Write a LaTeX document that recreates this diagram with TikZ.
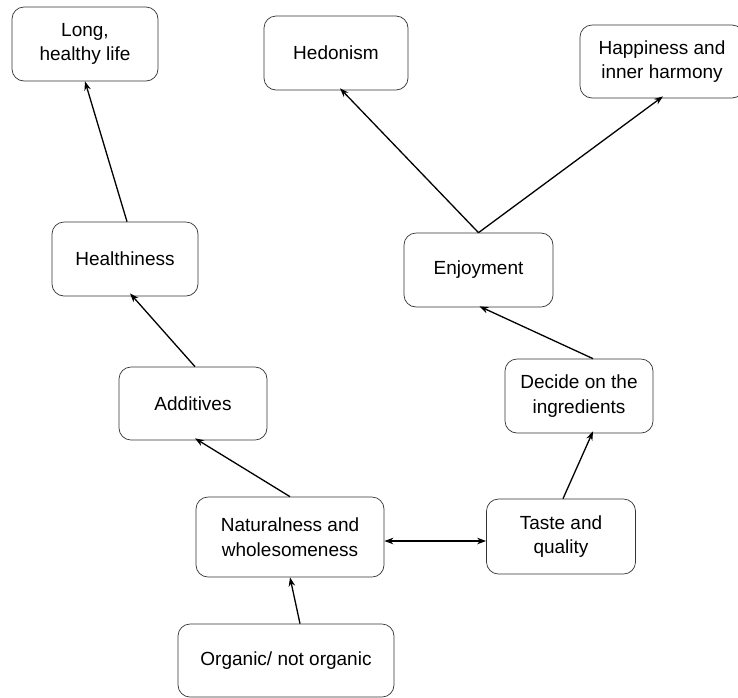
\documentclass[tikz,border=0pt]{standalone}
\usepackage{fontspec}
\setmainfont{Liberation Sans}
\usetikzlibrary{arrows.meta,calc}
\begin{document}
\begin{tikzpicture}[x=1pt,y=-1pt,
  box/.style={draw=black!80, line width=0.7pt, rounded corners=12pt, fill=white,
    inner sep=0pt, align=center,
    font=\fontsize{19}{24.5}\selectfont},
  link/.style={draw=black, line width=1.3pt,
    -{Stealth[length=9pt,width=6.5pt]}},
  biglink/.style={draw=black, line width=1.5pt,
    {Stealth[length=9pt,width=6.5pt]}-{Stealth[length=9pt,width=6.5pt]}}]
\useasboundingbox (0,0) rectangle (738,697);

% concept boxes
\node[box, minimum width=146pt, minimum height=74pt] (life)  at (85,44)     {Long,\\healthy life};
\node[box, minimum width=144pt, minimum height=74pt] (hed)   at (336,53)    {Hedonism};
\node[box, minimum width=164pt, minimum height=73pt] (hap)   at (662,61.5)  {Happiness and\\inner harmony};
\node[box, minimum width=146pt, minimum height=74pt] (heal)  at (125,259)   {Healthiness};
\node[box, minimum width=149pt, minimum height=74pt] (enj)   at (478.5,270) {Enjoyment};
\node[box, minimum width=148pt, minimum height=73pt] (add)   at (193,403.5) {Additives};
\node[box, minimum width=148pt, minimum height=74pt] (dec)   at (579,396)   {Decide on the\\ingredients};
\node[box, minimum width=188pt, minimum height=80pt] (nat)   at (290,537)   {Naturalness and\\wholesomeness};
\node[box, minimum width=149pt, minimum height=75pt] (taste) at (561,536.5) {Taste and\\quality};
\node[box, minimum width=216pt, minimum height=73pt] (org)   at (286,660.5) {Organic/ not organic};

% links between concepts
\draw[link] ($(heal.north)+(2,0)$) -- (life.south);
\draw[link] ($(add.north)+(2,0)$) -- ($(heal.south)+(5,-3)$);
\draw[link] (nat.north) -- ($(add.south)+(2,-2)$);
\draw[link] ($(org.north)+(14,0)$) -- (nat.south);
\draw[biglink] ($(nat.east)+(0,4)$) -- ($(taste.west)+(0,4.5)$);
\draw[link] ($(taste.north)+(2,0)$) -- ($(dec.south)+(14,-2)$);
\draw[link] ($(dec.north)+(14,0)$) -- ($(enj.south)+(1,-1)$);
\draw[link] (enj.north) -- ($(hed.south)+(4,-2)$);
\draw[link] (enj.north) -- ($(hap.south)+(1,-2)$);
\end{tikzpicture}
\end{document}
